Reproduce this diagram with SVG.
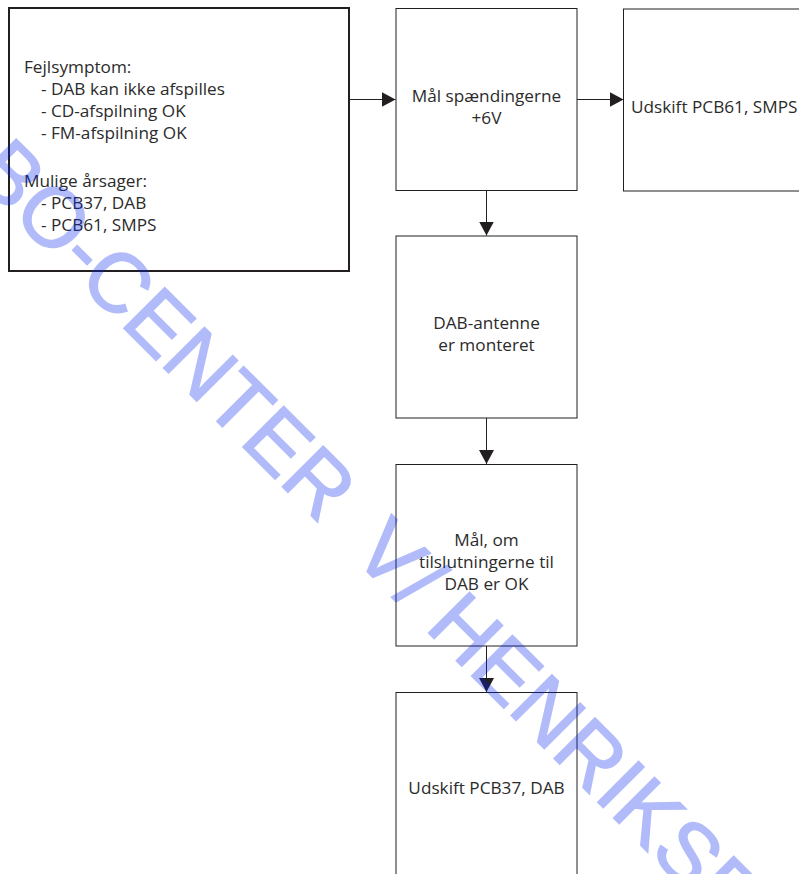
<svg xmlns="http://www.w3.org/2000/svg" width="799" height="874" viewBox="0 0 799 874">
<defs>
<style>
.box{fill:#ffffff;stroke:#231f20;stroke-width:1}
.boxb{fill:#ffffff;stroke:#231f20;stroke-width:2}
.t{font-family:"Open Sans","Noto Sans",sans-serif;font-size:17.2px;fill:#2b2b2b}
.c{text-anchor:middle}
.edge{stroke:#231f20;stroke-width:1;fill:none}
.wm{font-family:"Liberation Sans",Arial,sans-serif;font-size:84px;fill:#0023f1;stroke:#0023f1;stroke-width:1.5}
</style>
<marker id="ah" viewBox="0 0 14 15" refX="14" refY="7.5" markerWidth="14" markerHeight="15" markerUnits="userSpaceOnUse" orient="auto">
<path d="M0,0 L14,7.5 L0,15 Z" fill="#231f20"/>
</marker>
</defs>
<rect width="799" height="874" fill="#ffffff"/>
<g id="n1">
<rect class="boxb" x="9" y="8" width="340" height="263"/>
<text class="t" x="24" y="73">Fejlsymptom:</text>
<text class="t" x="41" y="95">- DAB kan ikke afspilles</text>
<text class="t" x="41" y="117">- CD-afspilning OK</text>
<text class="t" x="41" y="139">- FM-afspilning OK</text>
<text class="t" x="24" y="187">Mulige årsager:</text>
<text class="t" x="41" y="209">- PCB37, DAB</text>
<text class="t" x="41" y="231">- PCB61, SMPS</text>
</g>
<g id="n2">
<rect class="box" x="396" y="8.5" width="181" height="182"/>
<text class="t c" x="486.5" y="102">Mål spændingerne</text>
<text class="t c" x="486.5" y="124">+6V</text>
</g>
<g id="n3">
<rect class="box" x="623.5" y="9" width="181" height="182"/>
<text class="t" x="631" y="113">Udskift PCB61, SMPS</text>
</g>
<g id="n4">
<rect class="box" x="396" y="236" width="181" height="182"/>
<text class="t c" x="486.5" y="329">DAB-antenne</text>
<text class="t c" x="486.5" y="351">er monteret</text>
</g>
<g id="n5">
<rect class="box" x="396" y="464.5" width="181" height="181.5"/>
<text class="t c" x="486.5" y="546">Mål, om</text>
<text class="t c" x="486.5" y="568">tilslutningerne til</text>
<text class="t c" x="486.5" y="590">DAB er OK</text>
</g>
<g id="n6">
<rect class="box" x="396" y="692.5" width="181" height="182"/>
<text class="t c" x="486.5" y="794">Udskift PCB37, DAB</text>
</g>
<g id="edges">
<line class="edge" x1="349" y1="99.5" x2="395.5" y2="99.5" marker-end="url(#ah)"/>
<line class="edge" x1="577" y1="99.5" x2="623.5" y2="99.5" marker-end="url(#ah)"/>
<line class="edge" x1="486.5" y1="190.5" x2="486.5" y2="235.5" marker-end="url(#ah)"/>
<line class="edge" x1="486.5" y1="418" x2="486.5" y2="464" marker-end="url(#ah)"/>
<line class="edge" x1="486.5" y1="646" x2="486.5" y2="692" marker-end="url(#ah)"/>
</g>
<g id="watermark" transform="rotate(45)" opacity="0.3">
<text class="wm" x="103" y="144.6">BO-CENTER <tspan x="640">V</tspan><tspan x="699">/</tspan><tspan x="744">HENRIKSEN</tspan></text>
</g>
</svg>
